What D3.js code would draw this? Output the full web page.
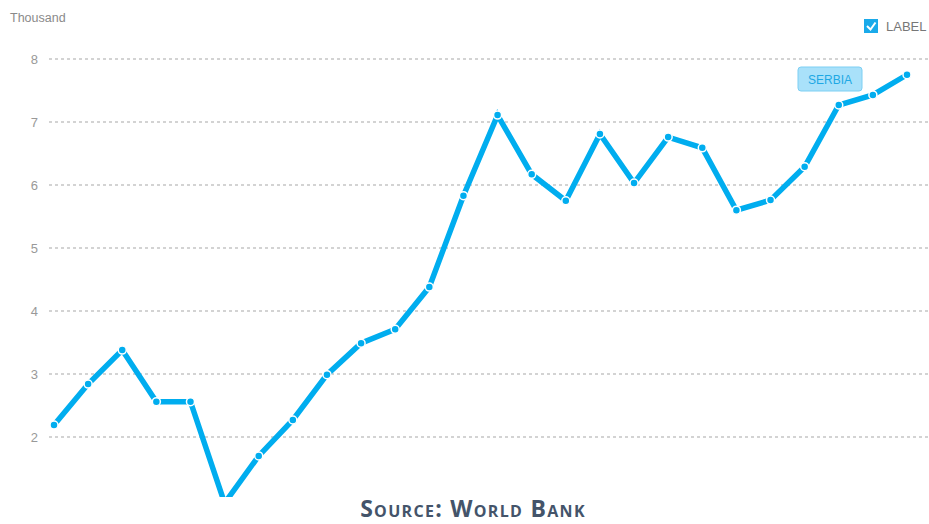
<!DOCTYPE html>
<html lang="en">
<head>
<meta charset="UTF-8">
<script src="https://d3js.org/d3.v7.min.js"></script>
<title>Serbia</title>
<style>
  body { margin: 0; background: #fff; }
  svg { display: block; font-family: "Liberation Sans", Arial, sans-serif; }
</style>
</head>
<body>
<div id="chart"></div>
<script>
// data (thousand)
const years = d3.range(1995, 2021).map(String)
const values = [2.19, 2.84, 3.38, 2.56, 2.56, 0.95, 1.70, 2.27, 2.99, 3.49, 3.71, 4.38, 5.83,
  7.11, 6.17, 5.75, 6.81, 6.03, 6.76, 6.59, 5.60, 5.76, 6.29, 7.27, 7.43, 7.75]
const yTicks = [2, 3, 4, 5, 6, 7, 8]
const seriesName = "SERBIA"

const W = 929, H = 524
const svg = d3.select("#chart").append("svg").attr("width", W).attr("height", H)

const x = d3.scalePoint().domain(years).range([54, 907])
const y = d3.scaleLinear().domain([1, 8]).range([500, 59])

// grid + tick labels
svg.append("g").selectAll("line").data(yTicks).enter().append("line")
  .attr("x1", 49).attr("x2", W)
  .attr("y1", d => y(d)).attr("y2", d => y(d))
  .attr("stroke", "#a8a8a8").attr("stroke-width", 1.2)
  .attr("stroke-dasharray", "3,3")

svg.append("g").selectAll("text").data(yTicks).enter().append("text")
  .attr("x", 38).attr("y", d => y(d) + 4.5)
  .attr("text-anchor", "end").attr("font-size", 13).attr("fill", "#999")
  .text(d => d)

svg.append("text").attr("x", 10).attr("y", 22)
  .attr("font-size", 12.5).attr("fill", "#8a8a8a").text("Thousand")

// clip area for the line
svg.append("clipPath").attr("id", "plot").append("rect")
  .attr("x", 0).attr("y", 0).attr("width", W).attr("height", 497)

const g = svg.append("g").attr("clip-path", "url(#plot)")
const line = d3.line().x((d, i) => x(years[i])).y(d => y(d))

g.append("path").datum(values)
  .attr("d", line).attr("fill", "none")
  .attr("stroke", "#00adef").attr("stroke-width", 5.5)
  .attr("stroke-linejoin", "miter")

g.selectAll("circle").data(values).enter().append("circle")
  .attr("cx", (d, i) => x(years[i])).attr("cy", d => y(d))
  .attr("r", 4).attr("fill", "#00adef")
  .attr("stroke", "#fff").attr("stroke-width", 1.5)

// series label
svg.append("rect").attr("x", 798).attr("y", 67).attr("width", 64).attr("height", 24)
  .attr("rx", 3).attr("fill", "#a9e1fa").attr("stroke", "#7ccff3").attr("stroke-width", 1)
svg.append("text").attr("x", 830).attr("y", 83.5).attr("text-anchor", "middle")
  .attr("font-size", 12).attr("fill", "#1ea8e4").text(seriesName)

// legend checkbox
svg.append("rect").attr("x", 864).attr("y", 19).attr("width", 14).attr("height", 14)
  .attr("fill", "#1aaaea")
svg.append("path").attr("d", "M867,26 L870.5,29.5 L875.5,22.5")
  .attr("fill", "none").attr("stroke", "#fff").attr("stroke-width", 2)
svg.append("text").attr("x", 886).attr("y", 31)
  .attr("font-size", 13).attr("fill", "#777").text("LABEL")

// source
svg.append("text").attr("x", 473).attr("y", 517).attr("text-anchor", "middle")
  .attr("font-family", "'Open Sans', sans-serif").attr("font-weight", "bold")
  .attr("font-size", 23).attr("font-variant", "small-caps").attr("fill", "#44546a")
  .attr("letter-spacing", 1.3)
  .text("Source: World Bank")
</script>
</body>
</html>
